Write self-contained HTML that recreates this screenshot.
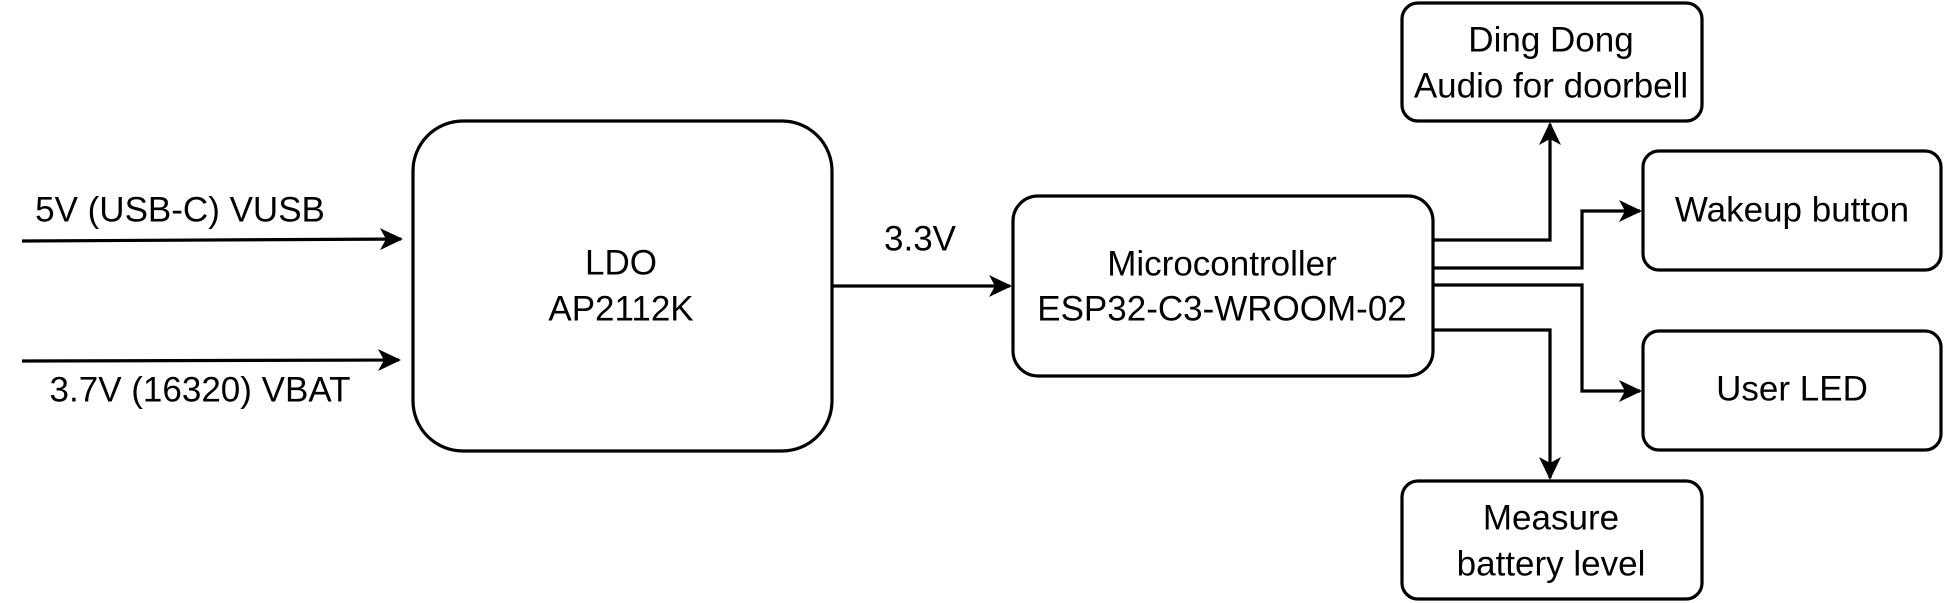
<!DOCTYPE html>
<html><head><meta charset="utf-8"><style>
html,body{margin:0;padding:0;background:#fff;}
svg{display:block;}
text{font-family:"Liberation Sans",Arial,sans-serif;font-size:35px;fill:#000;text-anchor:middle;dominant-baseline:central;}
</style></head><body>
<svg width="1944" height="603" viewBox="0 0 1944 603" xmlns="http://www.w3.org/2000/svg">
<defs>
<marker id="a" markerWidth="24" markerHeight="24" refX="21" refY="12" orient="auto" markerUnits="userSpaceOnUse">
<path d="M0,1 L23,12 L0,23 L6,12 Z" fill="#000"/>
</marker>
</defs>
<g fill="none" stroke="#000" stroke-width="3.2">
<rect x="413" y="121" width="419" height="330" rx="50"/>
<rect x="1013" y="196" width="420" height="180" rx="25"/>
<rect x="1402" y="3" width="300" height="118" rx="16"/>
<rect x="1643" y="151" width="298" height="119" rx="16"/>
<rect x="1643" y="331" width="298" height="119" rx="16"/>
<rect x="1402" y="481" width="300" height="118" rx="16"/>
<path d="M22,241 L401,239" marker-end="url(#a)"/>
<path d="M22,361 L399,360" marker-end="url(#a)"/>
<path d="M832,286 L1010,286" marker-end="url(#a)"/>
<path d="M1433,240 L1550,240 L1550,124" marker-end="url(#a)"/>
<path d="M1433,268 L1582,268 L1582,211 L1640,211" marker-end="url(#a)"/>
<path d="M1433,285 L1582,285 L1582,391 L1640,391" marker-end="url(#a)"/>
<path d="M1433,330 L1550,330 L1550,478" marker-end="url(#a)"/>
</g>
<text x="180" y="210">5V (USB-C) VUSB</text>
<text x="200" y="390">3.7V (16320) VBAT</text>
<text x="920" y="239">3.3V</text>
<text x="621" y="263">LDO</text>
<text x="621" y="309">AP2112K</text>
<text x="1222" y="264">Microcontroller</text>
<text x="1222" y="309">ESP32-C3-WROOM-02</text>
<text x="1551" y="40">Ding Dong</text>
<text x="1551" y="86">Audio for doorbell</text>
<text x="1792" y="210">Wakeup button</text>
<text x="1792" y="389">User LED</text>
<text x="1551" y="518">Measure</text>
<text x="1551" y="564">battery level</text>
</svg>
</body></html>
